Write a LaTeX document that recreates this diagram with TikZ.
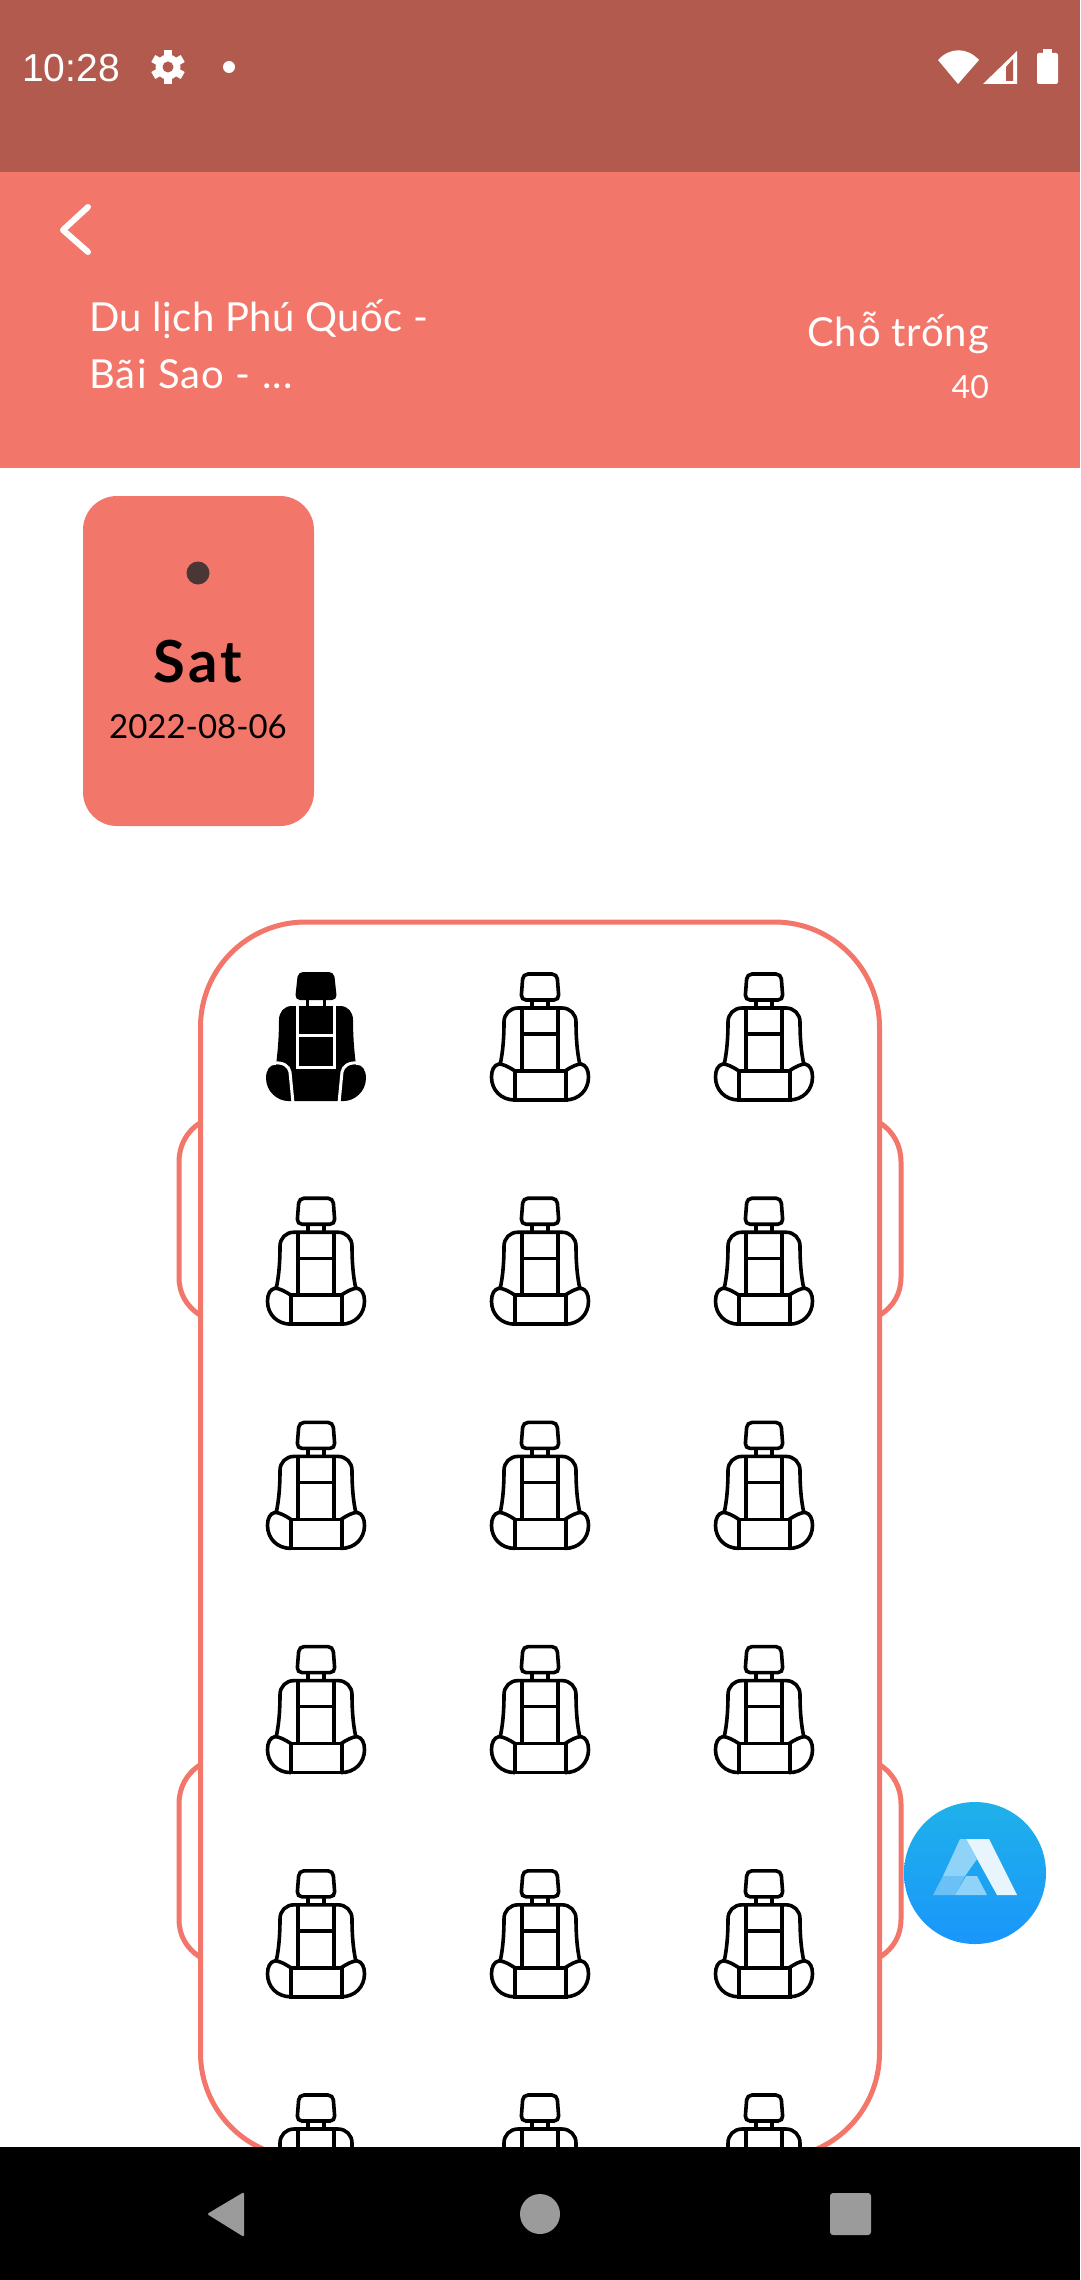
\documentclass[tikz,border=0pt]{standalone}
\usepackage{fontspec}
\setmainfont{Lato}
\newfontfamily\statusfont{Liberation Sans}
\definecolor{lachs}{HTML}{F3766A}
\definecolor{status}{HTML}{B35A4F}
\definecolor{punkt}{HTML}{4A3636}
\definecolor{navgrau}{HTML}{9B9B9B}
\definecolor{fabhell}{HTML}{1FB1E9}
\definecolor{fabdunkel}{HTML}{1A96FB}
\definecolor{logoweiss}{HTML}{E8F5FD}
\definecolor{logomitte}{HTML}{8FD3F8}
\definecolor{logotief}{HTML}{6BC0F5}
\tikzset{
	x=1pt, y=-1pt,
	titeltext/.style={inner sep=0pt, text=white, anchor=base west},
	rechtstext/.style={inner sep=0pt, text=white, anchor=base east},
	kartetext/.style={inner sep=0pt, text=black, anchor=base},
	bus/.style={draw=lachs, line width=5pt},
	seatline/.pic={
		\draw[line width=3.6pt, rounded corners=5pt] (-17,2) -- (17,2) -- (19,28) -- (-19,28) -- cycle;
		\draw[line width=3.4pt] (-18,36) -- (-18,99) (18,36) -- (18,99) (-18,62) -- (18,62);
		\draw[line width=3.6pt] (-25,99) rectangle (26,128);
		\foreach \s in {-1,1} {
			\begin{scope}[xscale=\s]
				\draw[line width=3.4pt] (8,28) -- (8,35);
				\draw[line width=3.6pt] (0,36) -- (22,36) .. controls (30,36) and (36,42) .. (36,50) .. controls (36,65) and (37,80) .. (40,93);
				\draw[line width=3.6pt] (25,99) .. controls (31,95) and (37,92) .. (41,92) .. controls (46,93) and (48.5,98) .. (48.5,105) .. controls (48.5,118) and (39,128) .. (25,128);
			\end{scope}
		}
	},
	seatfull/.pic={
		\fill[black, rounded corners=5pt] (-18,0) -- (18,0) -- (21,28) -- (-21,28) -- cycle;
		\foreach \s in {-1,1} {
			\begin{scope}[xscale=\s]
				\fill[black] (7,28) rectangle (10,35);
				\fill[black] (0,34) -- (24,34) .. controls (32,34) and (37,40) .. (37,48) .. controls (37,62) and (38,78) .. (40,93) .. controls (46,92) and (50,98) .. (50,106) .. controls (50,120) and (38,129) .. (28,129) -- (0,129) -- cycle;
				\draw[white, line width=3pt] (42,91) .. controls (33,90) and (27,94) .. (26,100) -- (23,131);
				\draw[white, line width=3pt] (18.5,34) -- (18.5,95);
			\end{scope}
		}
		\draw[white, line width=3pt] (-20,63) -- (20,63) (-20,95) -- (20,95);
	}
}
\begin{document}
\begin{tikzpicture}
	\useasboundingbox (0,0) rectangle (1080,2280);
	\fill[white] (0,0) rectangle (1080,2280);
	\fill[status] (0,0) rectangle (1080,172);
	\fill[lachs] (0,172) rectangle (1080,468);

	\node (Uhrzeit) at (22,82) [inner sep=0pt, text=white, anchor=base west, font=\statusfont\fontsize{39}{44}\selectfont] {10:28};
	\foreach \a in {0,60,...,300}
		\fill[white, rotate around={\a:(168,67)}] (164,50) rectangle (172,60);
	\fill[white] (168,67) circle (12.5);
	\fill[status] (168,67) circle (5.5);
	\fill[white] (229,67) circle (6);
	\fill[white] (958,84) -- (938,60) .. controls (950,47) and (967,47) .. (979,60) -- cycle;
	\fill[white] (983,84) -- (1017,51) -- (1017,84) -- cycle;
	\fill[status] (1006,67) -- (1013,59) -- (1013,81) -- (1006,81) -- cycle;
	\fill[white, rounded corners=2pt] (1037,53) rectangle (1058,84);
	\fill[white] (1043,49) rectangle (1052,55);

	\draw[white, line width=6pt, line cap=round, line join=round] (88,207) -- (63,230) -- (88,252);

	\node (Titel) at (89,331) [titeltext, font=\fontsize{40}{48}\selectfont\addfontfeature{LetterSpace=1.2}] {Du lịch Phú Quốc -};
	\node (Titelzwei) at (89,388) [titeltext, font=\fontsize{40}{48}\selectfont\addfontfeature{LetterSpace=3}] {Bãi Sao - ...};
	\node (Frei) at (989,346) [rechtstext, font=\fontsize{40}{48}\selectfont\addfontfeature{LetterSpace=2}] {Chỗ trống};
	\node (Anzahl) at (989,398) [rechtstext, font=\fontsize{32}{38}\selectfont] {40};

	\fill[lachs, rounded corners=34pt] (83,496) rectangle (314,826);
	\fill[punkt] (198,573) circle (11.5);
	\node (Tag) at (198,682) [kartetext, font=\bfseries\fontsize{58}{66}\selectfont\addfontfeature{LetterSpace=6}] {Sat};
	\node (Datum) at (198,738) [kartetext, font=\fontsize{33}{40}\selectfont] {2022-08-06};

	\foreach \m in {0,642} {
		\draw[bus] (200,1123+\m) .. controls (186,1132+\m) and (179,1146+\m) .. (179,1162+\m) -- (179,1277+\m) .. controls (179,1293+\m) and (186,1306+\m) .. (200,1315+\m);
		\draw[bus] (880,1123+\m) .. controls (894,1132+\m) and (901,1146+\m) .. (901,1162+\m) -- (901,1277+\m) .. controls (901,1293+\m) and (894,1306+\m) .. (880,1315+\m);
	}
	\draw[bus, fill=white, rounded corners=105pt] (200.5,922) rectangle (879.5,2158);

	\foreach \r in {0,...,5}
		\foreach \c/\xp in {0/316,1/540,2/764} {
			\ifnum\r\c=00
				\pic at (\xp,972) {seatfull};
			\else
				\pic at (\xp,972+224.2*\r) {seatline};
			\fi
		}

	\shade[top color=fabhell, bottom color=fabdunkel] (975,1873) circle (71);
	\fill[logoweiss] (966,1839) -- (989,1839) -- (1017,1895) -- (997,1895) -- cycle;
	\fill[logomitte] (960,1839) -- (966,1839) -- (977,1859) -- (965,1876) -- (943,1876) -- cycle;
	\fill[logotief] (943,1876) -- (965,1876) -- (955,1895) -- (933,1895) -- cycle;
	\fill[logomitte] (966,1876) -- (977,1876) -- (987,1895) -- (955,1895) -- cycle;

	\fill[black] (0,2147) rectangle (1080,2280);
	\fill[navgrau, rounded corners=2pt] (207,2214) -- (244,2192) -- (244,2237) -- cycle;
	\fill[navgrau] (540,2214) circle (20);
	\fill[navgrau, rounded corners=3pt] (830,2193) rectangle (871,2235);
\end{tikzpicture}
\end{document}
